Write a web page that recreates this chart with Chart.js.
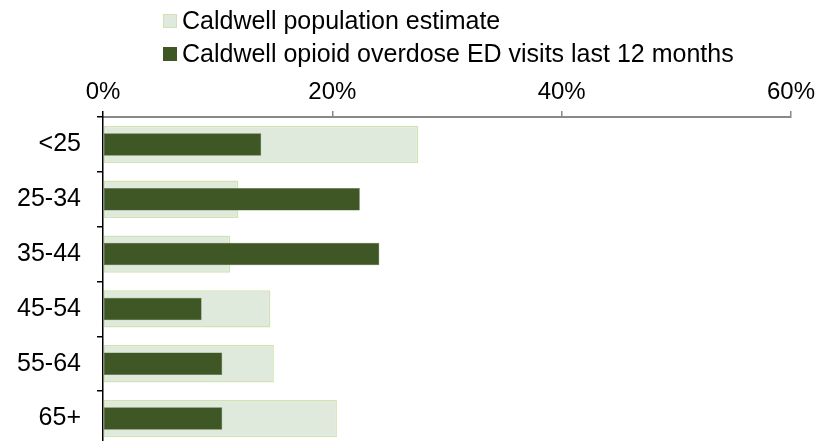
<!DOCTYPE html>
<html>
<head>
<meta charset="utf-8">
<script src="https://cdn.jsdelivr.net/npm/chart.js@4/dist/chart.umd.min.js"></script>
<style>
    html, body { margin: 0; padding: 0; background: #fff; overflow: hidden; }
    #wrap { position: relative; width: 819px; height: 477px; }
    #legend { position: absolute; left: 163px; top: 4px; font-family: "Liberation Sans", Arial, sans-serif; font-size: 25px; color: #000; }
    .item { display: flex; align-items: center; height: 33px; }
    .box { width: 14px; height: 14px; margin-right: 5px; box-sizing: border-box; }
</style>
</head>
<body>
<div id="wrap">
    <canvas id="ageChart" width="819" height="477"></canvas>
    <div id="legend"></div>
</div>
<script>
// Datos
const ageGroups = ['<25', '25-34', '35-44', '45-54', '55-64', '65+'];
const populationPct = [27.5, 11.8, 11.1, 14.6, 14.9, 20.4];
const edVisitsPct = [13.8, 22.4, 24.1, 8.6, 10.4, 10.4];
const xTicks = [0, 20, 40, 60];

const seriesNames = ['Caldwell population estimate', 'Caldwell opioid overdose ED visits last 12 months'];
const lightFill = '#E0EADC';
const lightBorder = '#D2E2B4';
const darkFill = '#3F5724';

const fontFamily = '"Liberation Sans", Arial, sans-serif';

const ageChart = new Chart(document.getElementById('ageChart'), {
    type: 'bar',
    data: {
        labels: ageGroups,
        datasets: [
            {
                label: seriesNames[0],
                data: populationPct,
                backgroundColor: lightFill,
                borderColor: lightBorder,
                borderWidth: 1.5,
                borderSkipped: false,
                grouped: false,
                barPercentage: 0.68,
                categoryPercentage: 1,
                order: 2
            },
            {
                label: seriesNames[1],
                data: edVisitsPct,
                backgroundColor: darkFill,
                borderColor: '#5B6F45',
                borderWidth: 0.5,
                borderSkipped: false,
                grouped: false,
                barPercentage: 0.41,
                categoryPercentage: 1,
                order: 1
            }
        ]
    },
    options: {
        indexAxis: 'y',
        responsive: false,
        animation: false,
        layout: { padding: { top: 0, right: 24, bottom: 1, left: 0 } },
        plugins: {
            legend: { display: false },
            tooltip: { enabled: false }
        },
        scales: {
            x: {
                position: 'top',
                min: 0,
                max: 60,
                afterBuildTicks: scale => { scale.ticks = xTicks.map(v => ({ value: v })); },
                afterFit: scale => { scale.height = 117; },
                ticks: {
                    font: { family: fontFamily, size: 24 },
                    color: '#000',
                    padding: 4,
                    callback: v => v + '%'
                },
                grid: {
                    drawOnChartArea: false,
                    color: ctx => ctx.index === 0 ? '#000' : '#888',
                    lineWidth: 1.5,
                    tickLength: 6
                },
                border: { color: '#888', width: 2 }
            },
            y: {
                afterFit: scale => { scale.width = 103; },
                ticks: {
                    font: { family: fontFamily, size: 25 },
                    color: '#000',
                    padding: 16
                },
                grid: {
                    drawOnChartArea: false,
                    color: '#000',
                    tickLength: 6,
                    lineWidth: 1.5
                },
                border: { color: '#000', width: 1.5 }
            }
        }
    }
});

// Leyenda
const legendEl = document.getElementById('legend');
[[lightFill, lightBorder], [darkFill, darkFill]].forEach((c, i) => {
    const item = document.createElement('div');
    item.className = 'item';
    const box = document.createElement('span');
    box.className = 'box';
    box.style.background = c[0];
    box.style.border = '1px solid ' + c[1];
    const txt = document.createElement('span');
    txt.textContent = seriesNames[i];
    item.appendChild(box);
    item.appendChild(txt);
    legendEl.appendChild(item);
});
</script>
</body>
</html>
